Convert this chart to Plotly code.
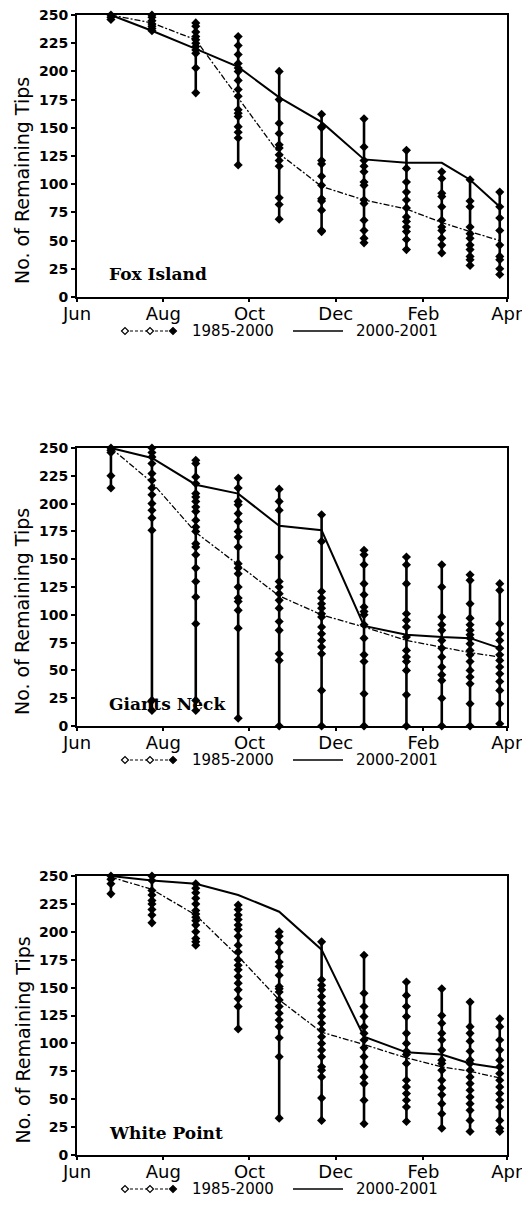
import plotly.graph_objects as go

# Sampling dates (one column of observations per date)
dates = ["2000-06-25", "2000-07-24", "2000-08-24", "2000-09-23", "2000-10-22",
         "2000-11-21", "2000-12-21", "2001-01-20", "2001-02-14", "2001-03-06",
         "2001-03-27"]

# Fox Island
fox_obs = [
    [250, 248, 246],
    [250, 248, 245, 242, 240, 238, 236],
    [243, 240, 235, 231, 228, 225, 222, 219, 216, 203, 181],
    [231, 223, 215, 207, 203, 200, 192, 184, 178, 166, 163, 160, 151, 146, 141, 117],
    [200, 175, 154, 145, 135, 132, 126, 121, 116, 88, 82, 69],
    [162, 151, 150, 121, 118, 107, 99, 87, 85, 77, 59, 58],
    [158, 133, 121, 116, 111, 102, 99, 86, 83, 68, 59, 52, 48],
    [130, 114, 102, 93, 86, 79, 71, 67, 62, 58, 51, 42],
    [111, 105, 92, 89, 80, 68, 62, 59, 52, 46, 39],
    [104, 85, 80, 62, 56, 52, 46, 42, 36, 33, 28],
    [93, 80, 70, 59, 46, 36, 33, 25, 20],
]
fox_mean = [250, 243, 228, 177, 127, 98, 86, 78, 66, 58, 50]
fox_2000 = [250, 236, 220, 204, 177, 155, 122, 119, 119, 104, 80]

# Giants Neck
giants_obs = [
    [250, 248, 246, 225, 214],
    [250, 246, 242, 236, 227, 221, 214, 208, 200, 194, 187, 176, 23, 14],
    [239, 236, 224, 218, 209, 206, 202, 197, 193, 185, 179, 175, 164, 161, 154, 142, 130, 116, 92, 23, 14],
    [223, 214, 202, 199, 191, 184, 175, 170, 161, 146, 142, 137, 125, 115, 112, 104, 88, 7],
    [213, 202, 194, 152, 130, 125, 119, 113, 106, 94, 86, 65, 59, 0],
    [190, 166, 121, 115, 110, 106, 101, 98, 89, 83, 77, 71, 65, 32, 0],
    [158, 154, 145, 128, 118, 107, 103, 100, 91, 79, 64, 58, 29, 0],
    [152, 145, 128, 101, 95, 89, 80, 68, 62, 58, 50, 28, 0],
    [145, 125, 98, 91, 86, 77, 70, 62, 53, 46, 41, 25, 0],
    [136, 131, 110, 97, 91, 86, 82, 79, 74, 68, 64, 58, 50, 44, 38, 20, 0],
    [128, 122, 92, 83, 77, 70, 64, 59, 53, 47, 40, 32, 20, 2],
]
giants_mean = [250, 219, 174, 145, 117, 100, 89, 77, 71, 66, 62]
giants_2000 = [250, 241, 217, 209, 180, 176, 90, 82, 80, 79, 70]

# White Point
white_obs = [
    [250, 247, 243, 234],
    [250, 246, 237, 233, 228, 225, 220, 215, 208],
    [243, 239, 235, 230, 225, 219, 216, 213, 210, 206, 200, 194, 191, 188],
    [224, 220, 215, 211, 206, 202, 196, 188, 182, 175, 170, 166, 160, 154, 148, 140, 133, 113],
    [200, 196, 190, 182, 173, 169, 161, 151, 149, 146, 139, 133, 127, 121, 115, 105, 88, 33],
    [191, 157, 152, 148, 142, 136, 130, 124, 118, 112, 106, 100, 94, 88, 79, 76, 70, 51, 31],
    [179, 145, 133, 124, 115, 109, 103, 96, 88, 79, 70, 64, 49, 28],
    [155, 143, 133, 124, 109, 100, 93, 90, 82, 67, 61, 55, 49, 43, 30],
    [149, 125, 118, 109, 103, 94, 85, 82, 76, 67, 60, 54, 46, 37, 24],
    [137, 115, 109, 102, 93, 85, 82, 76, 70, 64, 58, 52, 46, 40, 31, 21],
    [122, 115, 103, 94, 85, 79, 73, 67, 61, 55, 49, 43, 31, 24, 21],
]
white_mean = [249, 238, 215, 178, 139, 110, 99, 87, 79, 75, 69]
white_2000 = [250, 246, 243, 233, 218, 184, 106, 92, 90, 82, 78]

sites = ["Fox Island", "Giants Neck", "White Point"]
observations = [fox_obs, giants_obs, white_obs]
means = [fox_mean, giants_mean, white_mean]
season_2000 = [fox_2000, giants_2000, white_2000]

y_ticks = list(range(0, 251, 25))
legend_labels = ["1985-2000", "2000-2001"]
y_title = "No. of Remaining Tips"

# figure geometry (pixels)
W, H = 522, 1205
ML, MR, MT, MB = 77, 15, 15, 50
PW, PH = W - ML - MR, H - MT - MB
panel_px = [(15, 297), (448, 726), (876, 1155)]   # top, bottom of each plot area


def py(p):
    return (H - MB - p) / PH


def px(p):
    return (p - ML) / PW


fig = go.Figure()
INK = "black"

for i, site in enumerate(sites):
    xa = "x" if i == 0 else f"x{i + 1}"
    ya = "y" if i == 0 else f"y{i + 1}"

    # columns of yearly observations
    cx, cy = [], []
    for d, vals in zip(dates, observations[i]):
        for v in sorted(vals, reverse=True):
            cx.append(d)
            cy.append(v)
        cx.append(None)
        cy.append(None)
    fig.add_trace(go.Scatter(
        x=cx, y=cy, mode="lines+markers", xaxis=xa, yaxis=ya,
        line=dict(color=INK, width=2.6),
        marker=dict(symbol="diamond", size=7, color=INK),
        cliponaxis=False, showlegend=False, connectgaps=False))

    # long-term mean
    fig.add_trace(go.Scatter(
        x=dates, y=means[i], mode="lines", xaxis=xa, yaxis=ya,
        line=dict(color=INK, width=1.3, dash="6px,2px,2px,2px"),
        showlegend=False))

    # 2000-2001 season
    fig.add_trace(go.Scatter(
        x=dates, y=season_2000[i], mode="lines", xaxis=xa, yaxis=ya,
        line=dict(color=INK, width=2.0), showlegend=False))

    top, bot = panel_px[i]
    axis_common = dict(showline=True, linecolor=INK, linewidth=2, mirror=True,
                       showgrid=False, zeroline=False, ticks="outside",
                       tickwidth=1.5, tickcolor=INK, automargin=False)
    fig.layout[("xaxis" if i == 0 else f"xaxis{i + 1}")] = dict(
        axis_common, domain=[0, 1], anchor=ya, type="date", ticklen=3,
        ticklabelstandoff=-4, ticklabeloverflow="allow",
        range=["2000-06-01", "2001-04-01 03:00"],
        tickvals=["2000-06-01", "2000-08-01", "2000-10-01", "2000-12-01",
                  "2001-02-01", "2001-04-01"],
        tickformat="%b", tickfont=dict(family="DejaVu Sans", size=18, color=INK))
    fig.layout[("yaxis" if i == 0 else f"yaxis{i + 1}")] = dict(
        axis_common, domain=[py(bot), py(top)], anchor=xa, range=[0, 250],
        tickvals=y_ticks, ticklen=4,
        tickfont=dict(family="DejaVu Sans", size=14, color=INK, weight="bold"))

    # site name inside the panel
    fig.add_annotation(text=site, xref=f"{xa} domain", yref=ya, x=0.07, y=20,
                       xanchor="left", yanchor="middle", showarrow=False,
                       font=dict(family="DejaVu Serif", size=17, color=INK,
                                 weight="bold"))

    # y-axis title
    fig.add_annotation(text=y_title, xref="paper", yref="paper",
                       x=px(22), y=py((top + bot) / 2 + 25), textangle=-90,
                       showarrow=False, xanchor="center", yanchor="middle",
                       font=dict(family="DejaVu Sans", size=19, color=INK))

    # legend row under the panel
    ly = bot + 34
    fig.add_shape(type="line", xref="paper", yref="paper",
                  x0=px(125), x1=px(173), y0=py(ly), y1=py(ly),
                  line=dict(color=INK, width=1.2, dash="3px,2px"))
    for mx, filled in [(125, False), (150, False), (173, True)]:
        r = 3.5
        path = (f"M {px(mx - r)} {py(ly)} L {px(mx)} {py(ly - r)} "
                f"L {px(mx + r)} {py(ly)} L {px(mx)} {py(ly + r)} Z")
        fig.add_shape(type="path", xref="paper", yref="paper", path=path,
                      fillcolor=INK if filled else "white",
                      line=dict(color=INK, width=1.2))
    fig.add_shape(type="line", xref="paper", yref="paper",
                  x0=px(293), x1=px(343), y0=py(ly), y1=py(ly),
                  line=dict(color=INK, width=1.6))
    fig.add_annotation(text=legend_labels[0], xref="paper", yref="paper",
                       x=px(233), y=py(ly), showarrow=False,
                       xanchor="center", yanchor="middle",
                       font=dict(family="DejaVu Sans", size=15, color=INK))
    fig.add_annotation(text=legend_labels[1], xref="paper", yref="paper",
                       x=px(397), y=py(ly), showarrow=False,
                       xanchor="center", yanchor="middle",
                       font=dict(family="DejaVu Sans", size=15, color=INK))

fig.update_layout(width=W, height=H, margin=dict(l=ML, r=MR, t=MT, b=MB),
                  paper_bgcolor="white", plot_bgcolor="white", showlegend=False)

fig.write_html("out.html")
